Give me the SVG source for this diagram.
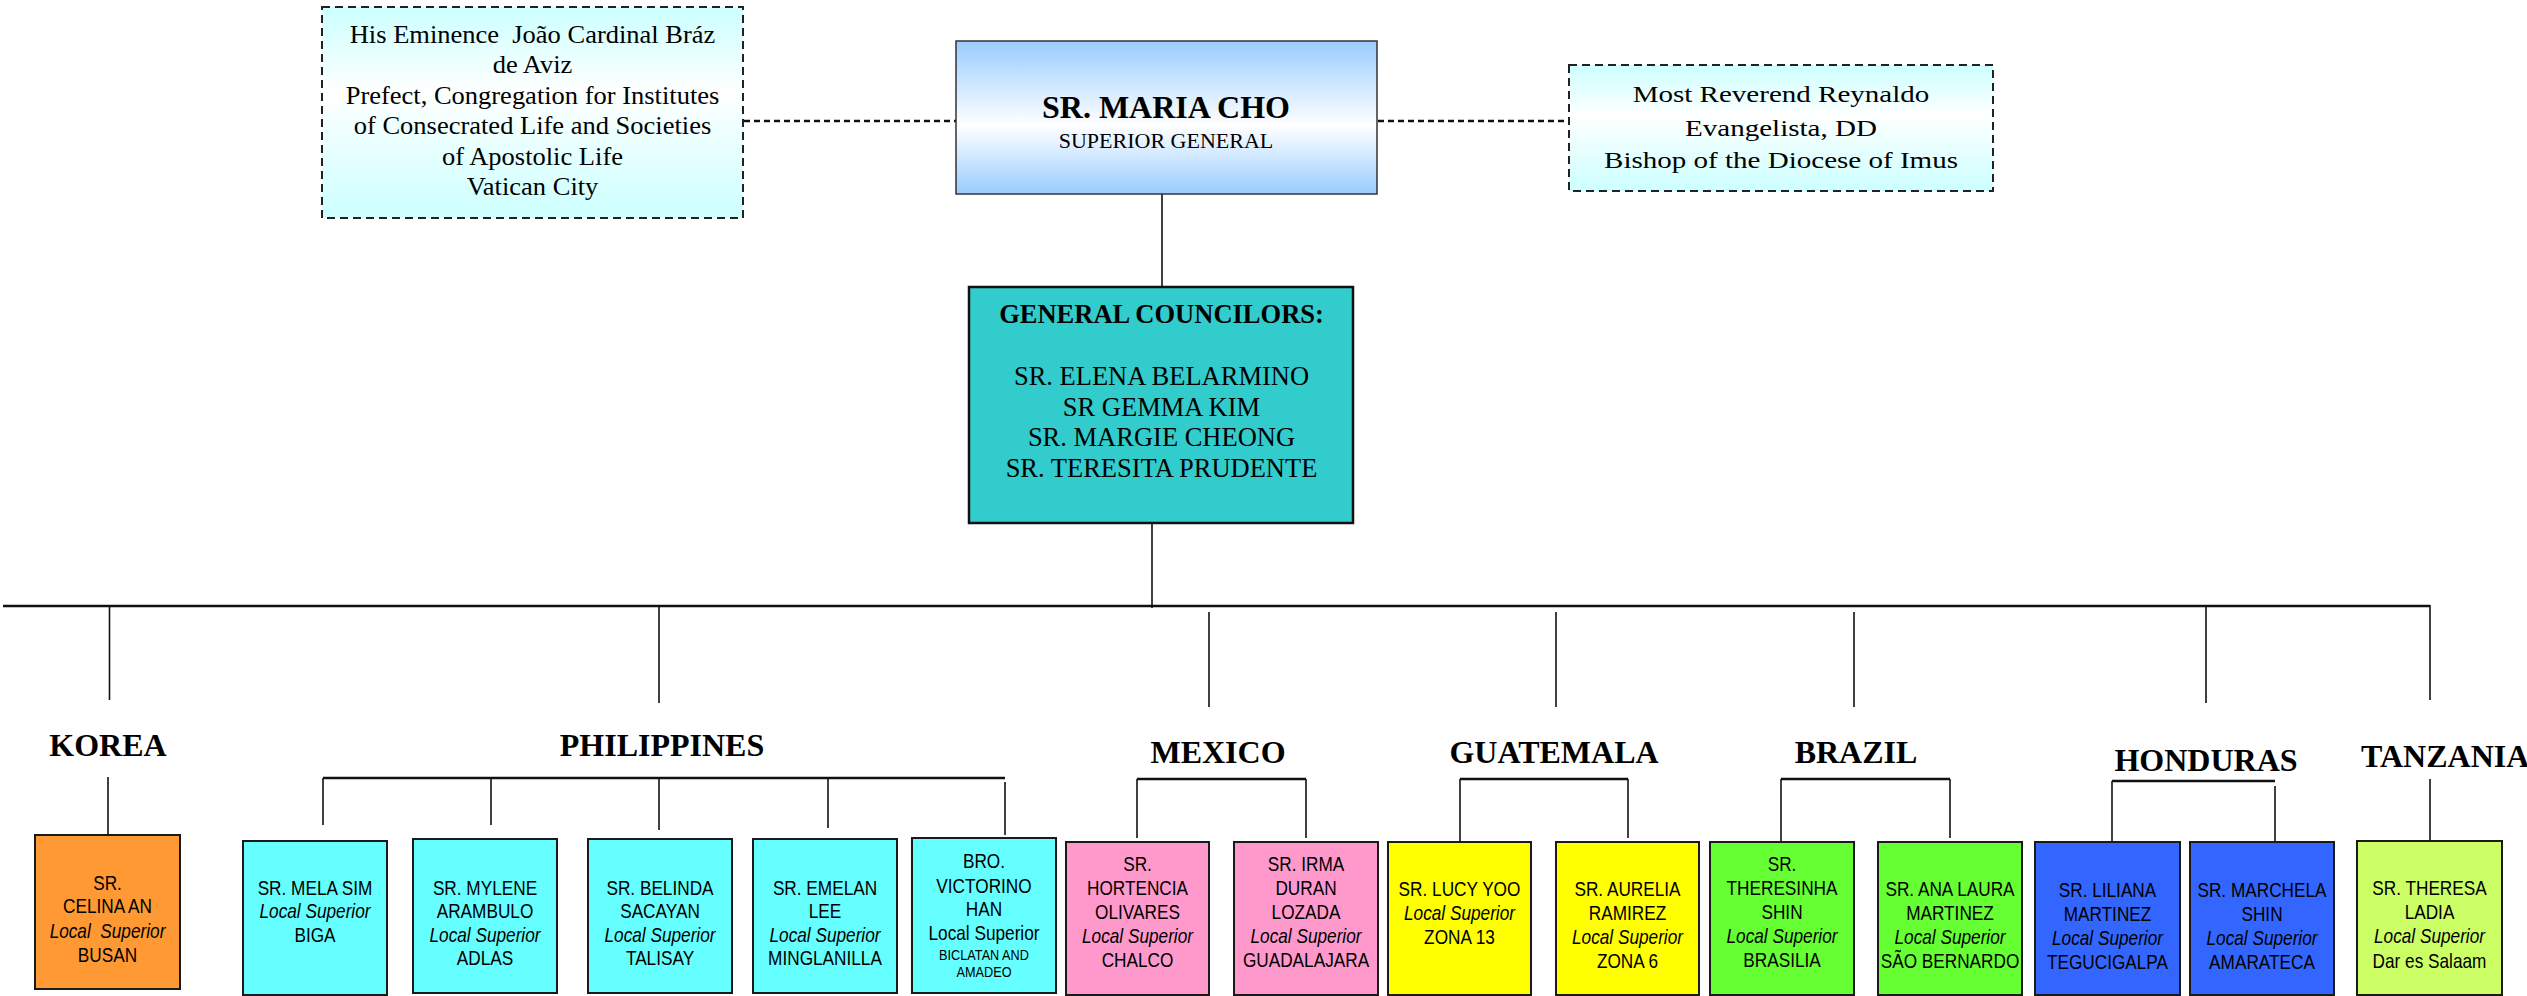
<svg xmlns="http://www.w3.org/2000/svg" width="2527" height="996" viewBox="0 0 2527 996">
<defs>
<linearGradient id="gCyan" x1="0" y1="0" x2="0" y2="1">
<stop offset="0" stop-color="#CCFFFF"/><stop offset="0.4" stop-color="#FFFFFF"/><stop offset="1" stop-color="#CCFFFF"/>
</linearGradient>
<linearGradient id="gBlue" x1="0" y1="0" x2="0" y2="1">
<stop offset="0" stop-color="#99CCFF"/><stop offset="0.55" stop-color="#FFFFFF"/><stop offset="1" stop-color="#99CCFF"/>
</linearGradient>
<style>
.tm{font-family:"Liberation Serif","Times New Roman",serif;fill:#000;text-anchor:middle}
.bold{font-weight:bold}
.bt{font-family:"Liberation Sans",Arial,sans-serif;font-size:21px;fill:#000;text-anchor:middle}
.it{font-style:italic}
.sm{font-size:15.5px}
.box{stroke:#1a1a1a;stroke-width:2}
.dbox{fill:url(#gCyan);stroke:#222;stroke-width:2;stroke-dasharray:8 5}
.ln{stroke:#111;stroke-width:1.6;fill:none}
.lnh{stroke:#111;stroke-width:2.4;fill:none}
.dash{stroke:#111;stroke-width:2.5;stroke-dasharray:6 4;fill:none}
.cty{font-family:"Liberation Serif","Times New Roman",serif;font-weight:bold;font-size:32px;fill:#000;text-anchor:middle}
.ko{fill:#FF9933}.ph{fill:#66FFFF}.mx{fill:#FF99CC}.gt{fill:#FFFF00}.br{fill:#66FF33}.hn{fill:#3366FF}.tz{fill:#CCFF66}
</style>
</defs>
<rect width="2527" height="996" fill="#FFFFFF"/>

<g id="connectors">
<line class="dash" x1="744" y1="121" x2="956" y2="121"/>
<line class="dash" x1="1378" y1="121" x2="1569" y2="121"/>
<line class="ln" x1="1162" y1="194" x2="1162" y2="287"/>
<line class="ln" x1="1152" y1="523" x2="1152" y2="608"/>
<line class="lnh" x1="3" y1="606" x2="2430" y2="606"/>
<line class="ln" x1="109.5" y1="606" x2="109.5" y2="700"/>
<line class="ln" x1="659" y1="606" x2="659" y2="703"/>
<line class="ln" x1="1209" y1="612" x2="1209" y2="707"/>
<line class="ln" x1="1556" y1="612" x2="1556" y2="707"/>
<line class="ln" x1="1854" y1="612" x2="1854" y2="707"/>
<line class="ln" x1="2206" y1="607" x2="2206" y2="703"/>
<line class="ln" x1="2430" y1="605" x2="2430" y2="700"/>
<line class="ln" x1="108" y1="777" x2="108" y2="835"/>
<line class="lnh" x1="323" y1="778" x2="1005" y2="778"/>
<line class="ln" x1="323" y1="778" x2="323" y2="825"/>
<line class="ln" x1="491" y1="778" x2="491" y2="825"/>
<line class="ln" x1="659" y1="778" x2="659" y2="830"/>
<line class="ln" x1="828" y1="778" x2="828" y2="828"/>
<line class="ln" x1="1005" y1="782" x2="1005" y2="835"/>
<line class="lnh" x1="1137" y1="779" x2="1306" y2="779"/>
<line class="ln" x1="1137" y1="779" x2="1137" y2="838"/>
<line class="ln" x1="1306" y1="779" x2="1306" y2="838"/>
<line class="lnh" x1="1460" y1="779" x2="1628" y2="779"/>
<line class="ln" x1="1460" y1="779" x2="1460" y2="842"/>
<line class="ln" x1="1628" y1="779" x2="1628" y2="838"/>
<line class="lnh" x1="1781" y1="779" x2="1950" y2="779"/>
<line class="ln" x1="1781" y1="779" x2="1781" y2="842"/>
<line class="ln" x1="1950" y1="779" x2="1950" y2="838"/>
<line class="lnh" x1="2112" y1="781" x2="2275" y2="781"/>
<line class="ln" x1="2112" y1="781" x2="2112" y2="842"/>
<line class="ln" x1="2275" y1="786" x2="2275" y2="842"/>
<line class="ln" x1="2430" y1="779" x2="2430" y2="842"/>
</g>

<g id="n-cardinal">
<rect class="dbox" x="322" y="7" width="421" height="211"/>
<g transform="translate(532.5 0) scale(1.06 1)">
<text class="tm" font-size="25" xml:space="preserve"><tspan x="0" y="43">His Eminence  João Cardinal Bráz</tspan></text>
<text class="tm" font-size="25"><tspan x="0" y="73">de Aviz</tspan><tspan x="0" y="104">Prefect, Congregation for Institutes</tspan><tspan x="0" y="134">of Consecrated Life and Societies</tspan><tspan x="0" y="165">of Apostolic Life</tspan><tspan x="0" y="195">Vatican City</tspan></text>
</g>
</g>

<g id="n-superior">
<rect x="956" y="41" width="421" height="153" fill="url(#gBlue)" stroke="#333" stroke-width="1.5"/>
<text class="tm bold" font-size="32" x="1166" y="118">SR. MARIA CHO</text>
<text class="tm" font-size="22" x="1166" y="148">SUPERIOR GENERAL</text>
</g>

<g id="n-bishop">
<rect class="dbox" x="1569" y="65" width="424" height="126"/>
<g transform="translate(1781 0) scale(1.21 1)">
<text class="tm" font-size="24"><tspan x="0" y="102">Most Reverend Reynaldo</tspan><tspan x="0" y="136">Evangelista, DD</tspan><tspan x="0" y="168">Bishop of the Diocese of Imus</tspan></text>
</g>
</g>

<g id="n-council">
<rect x="969" y="287" width="384" height="236" fill="#33CCCC" stroke="#111" stroke-width="2.5"/>
<text class="tm bold" font-size="26.5" x="1161.5" y="323">GENERAL COUNCILORS:</text>
<text class="tm" font-size="26.5"><tspan x="1161.5" y="385">SR. ELENA BELARMINO</tspan><tspan x="1161.5" y="416">SR GEMMA KIM</tspan><tspan x="1161.5" y="446">SR. MARGIE CHEONG</tspan><tspan x="1161.5" y="477">SR. TERESITA PRUDENTE</tspan></text>
</g>

<g id="labels">
<text class="cty" x="108" y="756">KOREA</text>
<text class="cty" x="662" y="756">PHILIPPINES</text>
<text class="cty" x="1218" y="763">MEXICO</text>
<text class="cty" x="1554" y="763">GUATEMALA</text>
<text class="cty" x="1856" y="763">BRAZIL</text>
<text class="cty" x="2206" y="771">HONDURAS</text>
<text class="cty" x="2361" y="767" text-anchor="start" style="text-anchor:start">TANZANIA</text>
</g>

<g id="n-ko1">
<rect class="box ko" x="35" y="835" width="145" height="154"/>
<g transform="translate(107.5 0) scale(0.82 1)"><text class="bt" xml:space="preserve"><tspan x="0" y="890">SR.</tspan><tspan x="0" y="913">CELINA AN</tspan><tspan x="0" y="938" class="it">Local  Superior</tspan><tspan x="0" y="962">BUSAN</tspan></text></g>
</g>

<g id="n-ph1">
<rect class="box ph" x="243" y="841" width="144" height="154"/>
<g transform="translate(315 0) scale(0.82 1)"><text class="bt"><tspan x="0" y="895">SR. MELA SIM</tspan><tspan x="0" y="918" class="it">Local Superior</tspan><tspan x="0" y="942">BIGA</tspan></text></g>
</g>
<g id="n-ph2">
<rect class="box ph" x="413" y="839" width="144" height="154"/>
<g transform="translate(485 0) scale(0.82 1)"><text class="bt"><tspan x="0" y="895">SR. MYLENE</tspan><tspan x="0" y="918">ARAMBULO</tspan><tspan x="0" y="942" class="it">Local Superior</tspan><tspan x="0" y="965">ADLAS</tspan></text></g>
</g>
<g id="n-ph3">
<rect class="box ph" x="588" y="839" width="144" height="154"/>
<g transform="translate(660 0) scale(0.82 1)"><text class="bt"><tspan x="0" y="895">SR. BELINDA</tspan><tspan x="0" y="918">SACAYAN</tspan><tspan x="0" y="942" class="it">Local Superior</tspan><tspan x="0" y="965">TALISAY</tspan></text></g>
</g>
<g id="n-ph4">
<rect class="box ph" x="753" y="839" width="144" height="154"/>
<g transform="translate(825 0) scale(0.82 1)"><text class="bt"><tspan x="0" y="895">SR. EMELAN</tspan><tspan x="0" y="918">LEE</tspan><tspan x="0" y="942" class="it">Local Superior</tspan><tspan x="0" y="965">MINGLANILLA</tspan></text></g>
</g>
<g id="n-ph5">
<rect class="box ph" x="912" y="838" width="144" height="155"/>
<g transform="translate(984 0) scale(0.82 1)"><text class="bt"><tspan x="0" y="868">BRO.</tspan><tspan x="0" y="893">VICTORINO</tspan><tspan x="0" y="916">HAN</tspan><tspan x="0" y="940">Local Superior</tspan><tspan x="0" y="960" class="sm">BICLATAN AND</tspan><tspan x="0" y="977" class="sm">AMADEO</tspan></text></g>
</g>

<g id="n-mx1">
<rect class="box mx" x="1066" y="842" width="143" height="153"/>
<g transform="translate(1137.5 0) scale(0.82 1)"><text class="bt"><tspan x="0" y="871">SR.</tspan><tspan x="0" y="895">HORTENCIA</tspan><tspan x="0" y="919">OLIVARES</tspan><tspan x="0" y="943" class="it">Local Superior</tspan><tspan x="0" y="967">CHALCO</tspan></text></g>
</g>
<g id="n-mx2">
<rect class="box mx" x="1234" y="842" width="144" height="153"/>
<g transform="translate(1306 0) scale(0.82 1)"><text class="bt"><tspan x="0" y="871">SR. IRMA</tspan><tspan x="0" y="895">DURAN</tspan><tspan x="0" y="919">LOZADA</tspan><tspan x="0" y="943" class="it">Local Superior</tspan><tspan x="0" y="967">GUADALAJARA</tspan></text></g>
</g>

<g id="n-gt1">
<rect class="box gt" x="1388" y="842" width="143" height="153"/>
<g transform="translate(1459.5 0) scale(0.82 1)"><text class="bt"><tspan x="0" y="896">SR. LUCY YOO</tspan><tspan x="0" y="920" class="it">Local Superior</tspan><tspan x="0" y="944">ZONA 13</tspan></text></g>
</g>
<g id="n-gt2">
<rect class="box gt" x="1556" y="842" width="143" height="153"/>
<g transform="translate(1627.5 0) scale(0.82 1)"><text class="bt"><tspan x="0" y="896">SR. AURELIA</tspan><tspan x="0" y="920">RAMIREZ</tspan><tspan x="0" y="944" class="it">Local Superior</tspan><tspan x="0" y="968">ZONA 6</tspan></text></g>
</g>

<g id="n-br1">
<rect class="box br" x="1710" y="842" width="144" height="153"/>
<g transform="translate(1782 0) scale(0.82 1)"><text class="bt"><tspan x="0" y="871">SR.</tspan><tspan x="0" y="895">THERESINHA</tspan><tspan x="0" y="919">SHIN</tspan><tspan x="0" y="943" class="it">Local Superior</tspan><tspan x="0" y="967">BRASILIA</tspan></text></g>
</g>
<g id="n-br2">
<rect class="box br" x="1878" y="842" width="144" height="153"/>
<g transform="translate(1950 0) scale(0.82 1)"><text class="bt"><tspan x="0" y="896">SR. ANA LAURA</tspan><tspan x="0" y="920">MARTINEZ</tspan><tspan x="0" y="944" class="it">Local Superior</tspan><tspan x="0" y="968">SÃO BERNARDO</tspan></text></g>
</g>

<g id="n-hn1">
<rect class="box hn" x="2035" y="842" width="145" height="153"/>
<g transform="translate(2107.5 0) scale(0.82 1)"><text class="bt"><tspan x="0" y="897">SR. LILIANA</tspan><tspan x="0" y="921">MARTINEZ</tspan><tspan x="0" y="945" class="it">Local Superior</tspan><tspan x="0" y="969">TEGUCIGALPA</tspan></text></g>
</g>
<g id="n-hn2">
<rect class="box hn" x="2190" y="842" width="144" height="153"/>
<g transform="translate(2262 0) scale(0.82 1)"><text class="bt"><tspan x="0" y="897">SR. MARCHELA</tspan><tspan x="0" y="921">SHIN</tspan><tspan x="0" y="945" class="it">Local Superior</tspan><tspan x="0" y="969">AMARATECA</tspan></text></g>
</g>

<g id="n-tz1">
<rect class="box tz" x="2357" y="841" width="145" height="154"/>
<g transform="translate(2429.5 0) scale(0.82 1)"><text class="bt"><tspan x="0" y="895">SR. THERESA</tspan><tspan x="0" y="919">LADIA</tspan><tspan x="0" y="943" class="it">Local Superior</tspan><tspan x="0" y="968">Dar es Salaam</tspan></text></g>
</g>
</svg>
